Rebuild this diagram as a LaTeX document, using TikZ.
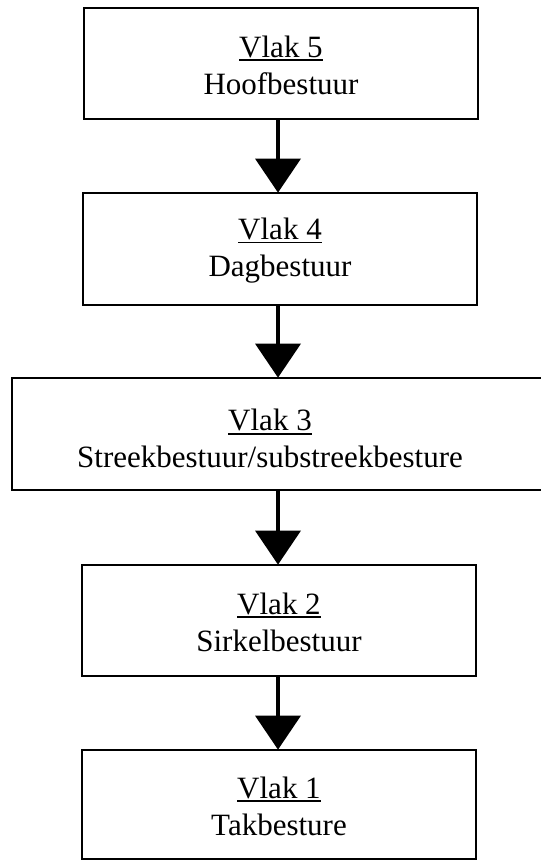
\documentclass[tikz,border=0pt]{standalone}
\usepackage{fontspec}
\setmainfont{Liberation Serif}
\usetikzlibrary{arrows.meta}
\newcommand\ulvlak[1]{\setbox0\hbox{#1}\rlap{\rule[-4pt]{\wd0}{1.8pt}}\box0}
\tikzset{
  lvlbox/.style={draw, line width=2.8pt, rectangle, inner sep=0pt, minimum width=394pt},
  lvltxt/.style={align=center, inner sep=0pt, font=\fontsize{31pt}{37pt}\selectfont},
  lvlarrow/.style={line width=4pt, -{Triangle[width=46pt,length=34pt,line width=0pt]}, shorten >=-1pt}
}
\begin{document}
\begin{tikzpicture}[x=1pt,y=-1pt]
\useasboundingbox (0,0) rectangle (541,860);
\clip (0,0) rectangle (541,860);
\fill[white] (0,0) rectangle (541,860);
% boxes
\node[lvlbox, minimum height=111pt] (b5) at (281,63.5) {};
\node[lvlbox, minimum height=112pt] (b4) at (280,249) {};
\node[lvlbox, minimum height=112pt, minimum width=560pt] (b3) at (292,434) {};
\node[lvlbox, minimum height=111pt] (b2) at (279,620.5) {};
\node[lvlbox, minimum height=109pt] (b1) at (279,804.5) {};
% texts
\node[lvltxt] (t5) at ([yshift=-1.5pt]b5.center) {\ulvlak{Vlak 5}\\Hoofbestuur};
\node[lvltxt] (t4) at ([yshift=-1.5pt]b4.center) {\ulvlak{Vlak 4}\\Dagbestuur};
\node[lvltxt] (t3) at ([yshift=-4.5pt]b3.center -| 270,0) {\ulvlak{Vlak 3}\\Streekbestuur/substreekbesture};
\node[lvltxt] (t2) at ([yshift=-1.5pt]b2.center) {\ulvlak{Vlak 2}\\Sirkelbestuur};
\node[lvltxt] (t1) at ([yshift=-1.5pt]b1.center) {\ulvlak{Vlak 1}\\Takbesture};
% arrows
\coordinate (ax) at (278,0);
\draw[lvlarrow] (b5.south -| ax) -- (b4.north -| ax);
\draw[lvlarrow] (b4.south -| ax) -- (b3.north -| ax);
\draw[lvlarrow] (b3.south -| ax) -- (b2.north -| ax);
\draw[lvlarrow] (b2.south -| ax) -- (b1.north -| ax);
\end{tikzpicture}
\end{document}
